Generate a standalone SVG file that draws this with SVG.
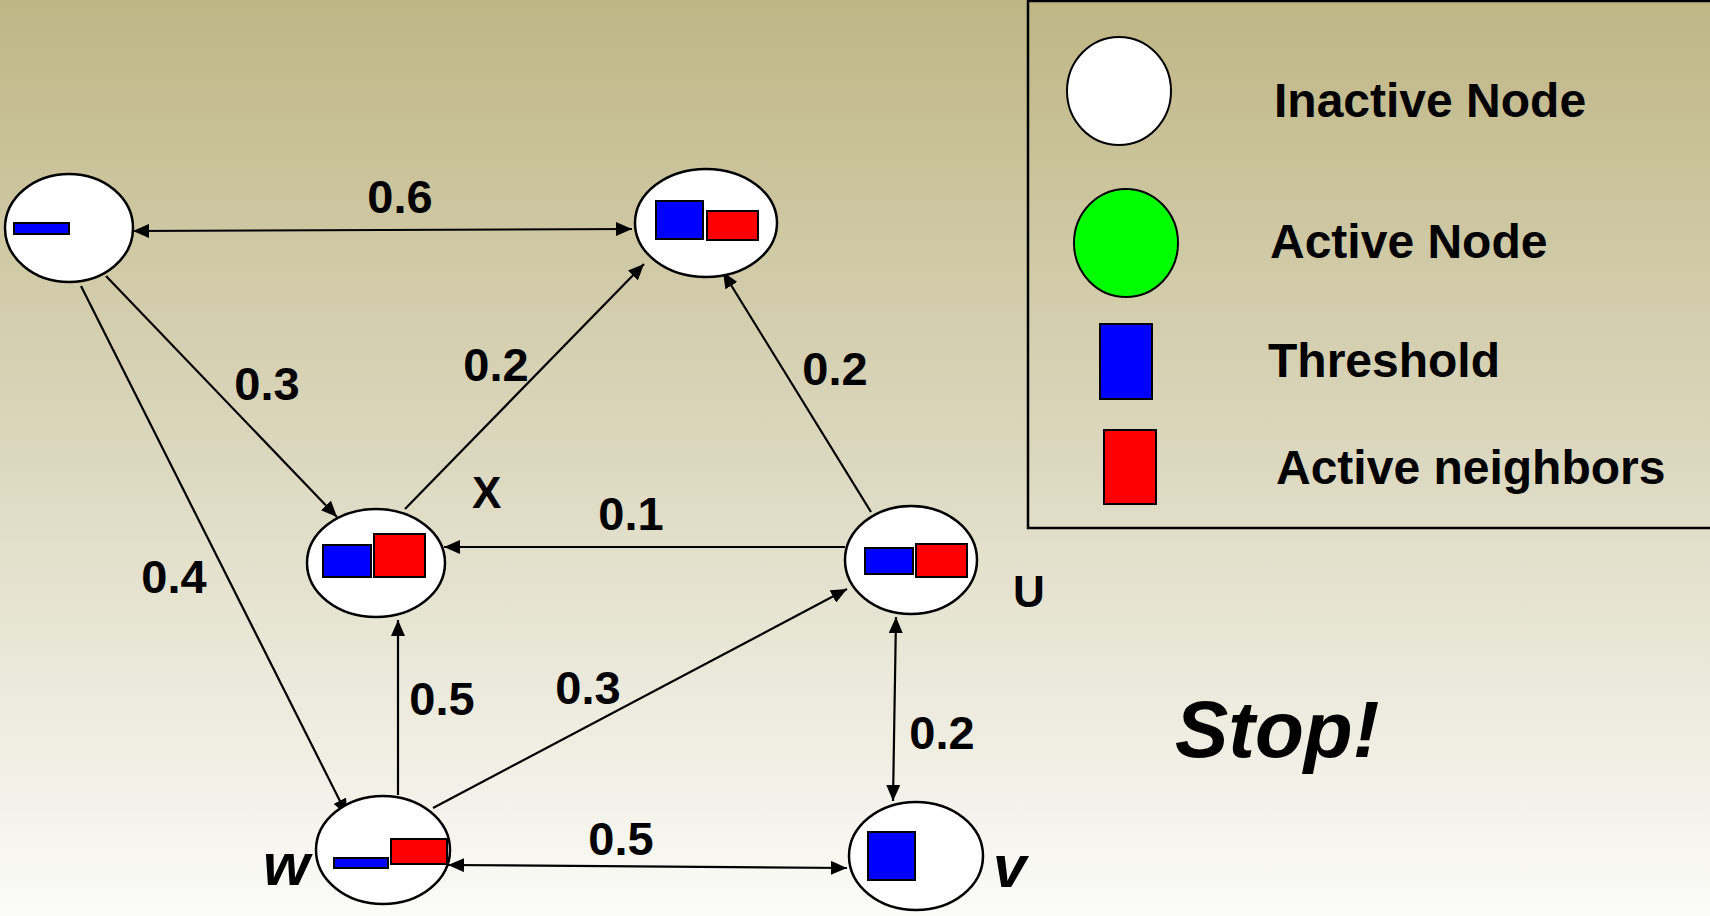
<svg xmlns="http://www.w3.org/2000/svg" width="1710" height="916" viewBox="0 0 1710 916">
  <defs>
    <linearGradient id="bg" x1="0" y1="0" x2="0" y2="1">
      <stop offset="0" stop-color="#bfb685"/>
      <stop offset="0.5" stop-color="#dcd8bf"/>
      <stop offset="1" stop-color="#fbfbf8"/>
    </linearGradient>
    <marker id="arrow" markerUnits="userSpaceOnUse" markerWidth="18" markerHeight="14" refX="16" refY="7" orient="auto-start-reverse">
      <path d="M0,0 L16,7 L0,14 z" fill="#000"/>
    </marker>
    <style>
      .node { fill: #fff; stroke: #000; stroke-width: 2.5; }
      .thr { fill: #0000ff; stroke: #000; stroke-width: 2; }
      .act { fill: #ff0000; stroke: #000; stroke-width: 2; }
      .edge { stroke: #000; stroke-width: 2.2; fill: none; }
      .w { font-family: "Liberation Sans", Arial, sans-serif; font-weight: bold; font-size: 47px; fill: #000; text-anchor: middle; }
      .name { font-family: "Liberation Sans", Arial, sans-serif; font-weight: bold; font-size: 44px; fill: #000; }
      .iname { font-family: "Liberation Sans", Arial, sans-serif; font-weight: bold; font-style: italic; font-size: 60px; fill: #000; }
      .leg { font-family: "Liberation Sans", Arial, sans-serif; font-weight: bold; font-size: 48px; fill: #000; }
    </style>
  </defs>

  <rect x="0" y="0" width="1710" height="916" fill="url(#bg)"/>

  <!-- connectors -->
  <g id="edges">
    <line class="edge" x1="133" y1="231" x2="632" y2="229" marker-start="url(#arrow)" marker-end="url(#arrow)"/>
    <line class="edge" x1="106" y1="276" x2="337" y2="517" marker-end="url(#arrow)"/>
    <line class="edge" x1="81" y1="286" x2="347" y2="815" marker-end="url(#arrow)"/>
    <line class="edge" x1="405" y1="509" x2="644" y2="264" marker-end="url(#arrow)"/>
    <line class="edge" x1="871" y1="512" x2="723" y2="272" marker-end="url(#arrow)"/>
    <line class="edge" x1="845" y1="547" x2="444" y2="547" marker-end="url(#arrow)"/>
    <line class="edge" x1="398" y1="795" x2="398" y2="620" marker-end="url(#arrow)"/>
    <line class="edge" x1="433" y1="808" x2="847" y2="589" marker-end="url(#arrow)"/>
    <line class="edge" x1="896" y1="617" x2="893" y2="801" marker-start="url(#arrow)" marker-end="url(#arrow)"/>
    <line class="edge" x1="448" y1="865" x2="847" y2="868" marker-start="url(#arrow)" marker-end="url(#arrow)"/>
  </g>

  <!-- edge weights -->
  <g id="weights">
    <text class="w" x="400" y="213">0.6</text>
    <text class="w" x="267" y="400">0.3</text>
    <text class="w" x="496" y="381">0.2</text>
    <text class="w" x="835" y="385">0.2</text>
    <text class="w" x="631" y="530">0.1</text>
    <text class="w" x="174" y="593">0.4</text>
    <text class="w" x="442" y="715">0.5</text>
    <text class="w" x="588" y="704">0.3</text>
    <text class="w" x="942" y="749">0.2</text>
    <text class="w" x="621" y="855">0.5</text>
  </g>

  <!-- nodes -->
  <g id="node-a">
    <ellipse class="node" cx="69" cy="228" rx="64" ry="54"/>
    <rect class="thr" x="14" y="223" width="55" height="11"/>
  </g>
  <g id="node-b">
    <ellipse class="node" cx="706" cy="223" rx="71" ry="54"/>
    <rect class="thr" x="656" y="201" width="47" height="38"/>
    <rect class="act" x="707" y="211" width="51" height="29"/>
  </g>
  <g id="node-x">
    <ellipse class="node" cx="376" cy="563" rx="69" ry="54"/>
    <rect class="thr" x="323" y="545" width="48" height="32"/>
    <rect class="act" x="374" y="534" width="51" height="43"/>
    <text class="name" x="472" y="508">X</text>
  </g>
  <g id="node-u">
    <ellipse class="node" cx="911" cy="560" rx="66" ry="54"/>
    <rect class="thr" x="865" y="548" width="48" height="26"/>
    <rect class="act" x="916" y="544" width="51" height="33"/>
    <text class="name" x="1013" y="607">U</text>
  </g>
  <g id="node-w">
    <ellipse class="node" cx="383" cy="850" rx="67" ry="54"/>
    <rect class="thr" x="334" y="858" width="54" height="10"/>
    <rect class="act" x="391" y="839" width="56" height="25"/>
    <text class="iname" x="263" y="885">w</text>
  </g>
  <g id="node-v">
    <ellipse class="node" cx="916" cy="856" rx="67" ry="54"/>
    <rect class="thr" x="868" y="832" width="47" height="48"/>
    <text class="iname" x="993" y="887">v</text>
  </g>

  <text id="stop" x="1175" y="757" font-family="Liberation Sans, Arial, sans-serif" font-weight="bold" font-style="italic" font-size="80" fill="#000">Stop!</text>

  <!-- legend -->
  <g id="legend">
    <rect x="1028" y="1" width="700" height="527" fill="none" stroke="#000" stroke-width="2.5"/>
    <ellipse cx="1119" cy="91" rx="52" ry="54" fill="#fff" stroke="#000" stroke-width="2"/>
    <ellipse cx="1126" cy="243" rx="52" ry="54" fill="#00ff00" stroke="#000" stroke-width="2"/>
    <rect x="1100" y="324" width="52" height="75" fill="#0000ff" stroke="#000" stroke-width="2"/>
    <rect x="1104" y="430" width="52" height="74" fill="#ff0000" stroke="#000" stroke-width="2"/>
    <text class="leg" x="1274" y="117">Inactive Node</text>
    <text class="leg" x="1270" y="258">Active Node</text>
    <text class="leg" x="1268" y="377">Threshold</text>
    <text class="leg" x="1276" y="484">Active neighbors</text>
  </g>
</svg>
